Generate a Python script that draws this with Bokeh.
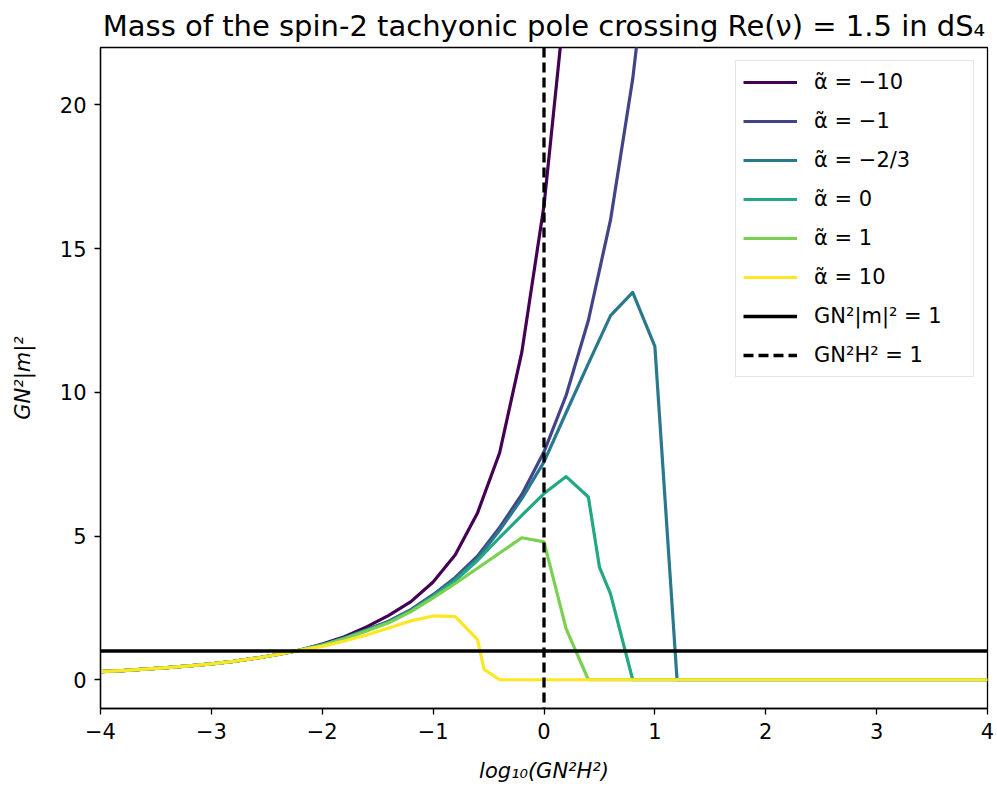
from bokeh.plotting import figure
from bokeh.models import Legend, LegendItem, FixedTicker
from bokeh.embed import file_html
from bokeh.resources import INLINE

# ---------------- data ----------------
x_low = [-4.0, -3.8, -3.6, -3.4, -3.2, -3.0, -2.8, -2.6, -2.4, -2.2]
y_low = [0.28, 0.32, 0.37, 0.42, 0.48, 0.55, 0.64, 0.75, 0.88, 1.03]

x_m10 = [-2.0, -1.8, -1.6, -1.4, -1.2, -1.0, -0.8, -0.6, -0.4, -0.2, 0.0, 0.2]
y_m10 = [1.24, 1.50, 1.84, 2.24, 2.72, 3.40, 4.35, 5.80, 7.90, 11.40, 16.50, 24.00]

x_m1 = [-2.0, -1.8, -1.6, -1.4, -1.2, -1.0, -0.8, -0.6, -0.4, -0.2, 0.0, 0.2, 0.4, 0.6, 0.8, 1.0]
y_m1 = [1.22, 1.46, 1.74, 2.04, 2.44, 2.96, 3.56, 4.30, 5.30, 6.45, 7.93, 9.90, 12.50, 16.00, 20.90, 27.50]

x_m23 = [-2.0, -1.8, -1.6, -1.4, -1.2, -1.0, -0.8, -0.6, -0.4, -0.2, 0.0, 0.2, 0.4, 0.6, 0.8, 1.0, 1.2, 1.4,
         1.6, 1.8, 2.0, 2.2, 2.4, 2.6, 2.8, 3.0, 3.2, 3.4, 3.6, 3.8, 4.0]
y_m23 = [1.22, 1.45, 1.73, 2.02, 2.42, 2.93, 3.52, 4.22, 5.20, 6.30, 7.58, 9.30, 11.00, 12.67, 13.48, 11.60, 0.0, 0.0,
         0.0, 0.0, 0.0, 0.0, 0.0, 0.0, 0.0, 0.0, 0.0, 0.0, 0.0, 0.0, 0.0]

x_0 = [-2.0, -1.8, -1.6, -1.4, -1.2, -1.0, -0.8, -0.6, -0.4, -0.2, 0.0, 0.2, 0.4, 0.5, 0.6, 0.8, 1.0, 1.2, 1.4,
       1.6, 1.8, 2.0, 2.2, 2.4, 2.6, 2.8, 3.0, 3.2, 3.4, 3.6, 3.8, 4.0]
y_0 = [1.21, 1.44, 1.72, 2.00, 2.40, 2.90, 3.45, 4.15, 4.95, 5.72, 6.48, 7.07, 6.36, 3.92, 2.99, 0.0, 0.0, 0.0, 0.0,
       0.0, 0.0, 0.0, 0.0, 0.0, 0.0, 0.0, 0.0, 0.0, 0.0, 0.0, 0.0, 0.0]

x_p1 = [-2.0, -1.8, -1.6, -1.4, -1.2, -1.0, -0.8, -0.6, -0.4, -0.2, 0.0, 0.2, 0.4, 0.6, 0.8, 1.0, 1.2, 1.4,
        1.6, 1.8, 2.0, 2.2, 2.4, 2.6, 2.8, 3.0, 3.2, 3.4, 3.6, 3.8, 4.0]
y_p1 = [1.20, 1.43, 1.70, 1.98, 2.37, 2.85, 3.35, 3.88, 4.41, 4.94, 4.80, 1.77, 0.0, 0.0, 0.0, 0.0, 0.0, 0.0,
        0.0, 0.0, 0.0, 0.0, 0.0, 0.0, 0.0, 0.0, 0.0, 0.0, 0.0, 0.0, 0.0]

x_p10 = [-2.0, -1.8, -1.6, -1.4, -1.2, -1.0, -0.8, -0.6, -0.54, -0.4, -0.2, 0.0, 0.2, 0.4, 0.6, 0.8, 1.0, 1.2,
         1.4, 1.6, 1.8, 2.0, 2.2, 2.4, 2.6, 2.8, 3.0, 3.2, 3.4, 3.6, 3.8, 4.0]
y_p10 = [1.16, 1.35, 1.56, 1.80, 2.05, 2.22, 2.20, 1.40, 0.36, 0.0, 0.0, 0.0, 0.0, 0.0, 0.0, 0.0, 0.0, 0.0,
         0.0, 0.0, 0.0, 0.0, 0.0, 0.0, 0.0, 0.0, 0.0, 0.0, 0.0, 0.0, 0.0, 0.0]

series_labels = ["α̃ = −10", "α̃ = −1", "α̃ = −2/3", "α̃ = 0", "α̃ = 1", "α̃ = 10"]
series_colors = ["#440154", "#414487", "#2a788e", "#22a884", "#7ad151", "#fde725"]
series_x = [x_m10, x_m1, x_m23, x_0, x_p1, x_p10]
series_y = [y_m10, y_m1, y_m23, y_0, y_p1, y_p10]

mass_line_y = 1.0
hubble_line_x = 0.0
mass_label = "GN²|m|² = 1"
hubble_label = "GN²H² = 1"

x_ticks = [-4, -3, -2, -1, 0, 1, 2, 3, 4]
y_ticks = [0, 5, 10, 15, 20]
x_lim = (-4, 4)
y_lim = (-1, 22)

# ---------------- figure ----------------
p = figure(width=997, height=787, x_range=x_lim, y_range=y_lim,
           output_backend="svg", toolbar_location=None,
           min_border_left=100, min_border_right=10,
           min_border_top=47, min_border_bottom=79)

p.title.text = "Mass of the spin-2 tachyonic pole crossing Re(ν) = 1.5 in dS₄"
p.title.text_font = "DejaVu Sans"
p.title.text_font_size = "29px"
p.title.text_font_style = "normal"
p.title.align = "center"
p.title.text_color = "black"
p.title.offset = 0
p.title.standoff = 10

p.xgrid.visible = False
p.ygrid.visible = False
p.outline_line_color = "black"
p.outline_line_width = 1.3
p.outline_line_alpha = 1.0
p.background_fill_color = "white"

p.xaxis.ticker = FixedTicker(ticks=x_ticks)
p.yaxis.ticker = FixedTicker(ticks=y_ticks)
p.xaxis.major_label_overrides = {t: (str(t).replace("-", "−")) for t in x_ticks}
p.yaxis.major_label_overrides = {t: str(t) for t in y_ticks}
p.xaxis.axis_label = "log₁₀(GN²H²)"
p.yaxis.axis_label = "GN²|m|²"

for ax in (p.xaxis[0], p.yaxis[0]):
    ax.axis_label_text_font = "DejaVu Sans"
    ax.axis_label_text_font_size = "21px"
    ax.axis_label_text_font_style = "italic"
    ax.axis_label_text_color = "black"
    ax.major_label_text_font = "DejaVu Sans"
    ax.major_label_text_font_size = "21px"
    ax.major_label_text_color = "black"
    ax.major_tick_out = 6
    ax.major_tick_in = 0
    ax.major_tick_line_width = 1.3
    ax.major_tick_line_color = "black"
    ax.minor_tick_line_color = None
    ax.axis_line_width = 1.3
    ax.axis_line_color = "black"
    ax.major_label_standoff = 8

p.xaxis.axis_label_standoff = 17
p.yaxis.axis_label_standoff = 22

items = []
for lab, col, xs, ys in zip(series_labels, series_colors, series_x, series_y):
    xx = x_low + xs
    yy = y_low + ys
    r = p.line(xx, yy, line_color=col, line_width=3.2, line_join="round")
    items.append(LegendItem(label=lab, renderers=[r]))

# horizontal (GN²|m|² = 1) and vertical dashed (GN²H² = 1) reference lines across the axes
r_h = p.line(x=list(x_lim), y=[mass_line_y, mass_line_y], line_color="black", line_width=3.3)
r_v = p.line(x=[hubble_line_x, hubble_line_x], y=list(y_lim)[::-1], line_color="black", line_width=3.3,
             line_dash="10 5")
items.append(LegendItem(label=mass_label, renderers=[r_h]))
items.append(LegendItem(label=hubble_label, renderers=[r_v]))

legend = Legend(items=items, location="top_right",
                label_text_font="DejaVu Sans", label_text_font_size="21px",
                label_text_color="black",
                glyph_width=54, glyph_height=28, label_height=28, label_width=152,
                spacing=11, padding=7, label_standoff=17, margin=13,
                border_line_color="#cccccc", border_line_width=1.3,
                background_fill_color="white", background_fill_alpha=0.8)
p.add_layout(legend)

open("out.html", "w").write(file_html(p, INLINE))
